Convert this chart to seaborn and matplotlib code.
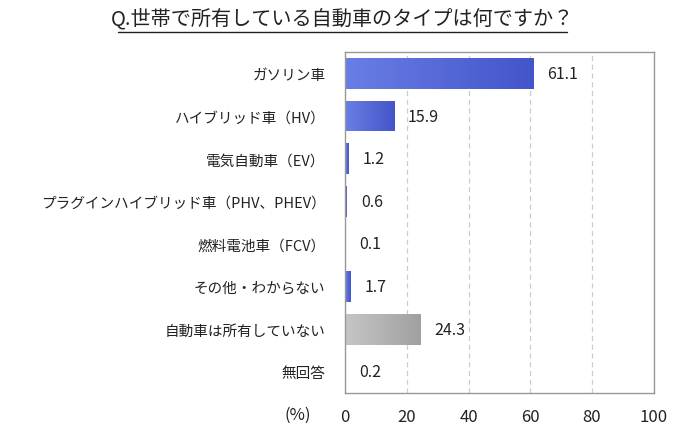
import matplotlib
matplotlib.use("Agg")
import matplotlib.pyplot as plt
import seaborn as sns
import numpy as np
import pandas as pd
from matplotlib.lines import Line2D
from matplotlib.colors import LinearSegmentedColormap

categories = ["ガソリン車", "ハイブリッド車（HV）", "電気自動車（EV）",
              "プラグインハイブリッド車（PHV、PHEV）", "燃料電池車（FCV）",
              "その他・わからない", "自動車は所有していない", "無回答"]
values = [61.1, 15.9, 1.2, 0.6, 0.1, 1.7, 24.3, 0.2]
value_labels = ["61.1", "15.9", "1.2", "0.6", "0.1", "1.7", "24.3", "0.2"]
xticks = [0, 20, 40, 60, 80, 100]
title = "Q.世帯で所有している自動車のタイプは何ですか？"

sns.set_theme(style="white")
plt.rcParams['font.family'] = ['Noto Sans CJK JP', 'DejaVu Sans']

blue = "#4f63d6"
gray = "#a9a9a9"
colors = [blue] * 6 + [gray, blue]

df = pd.DataFrame({"cat": categories, "val": values})

fig = plt.figure(figsize=(7, 4.35), dpi=100)
ax = fig.add_axes([0.493, 0.094, 0.441, 0.784])

sns.barplot(data=df, x="val", y="cat", hue="cat", palette=colors, legend=False,
            orient="h", width=0.72, ax=ax, saturation=1, edgecolor="none")

# gradient fill clipped to bars
grad = np.linspace(0, 1, 256).reshape(1, -1)
cm_blue = LinearSegmentedColormap.from_list("b", ["#6a7ee6", "#4355c9"])
cm_gray = LinearSegmentedColormap.from_list("g", ["#c6c6c6", "#a0a0a0"])
for i, p in enumerate(ax.patches):
    x0, y0 = p.get_x(), p.get_y()
    w, h = p.get_width(), p.get_height()
    if w <= 0:
        continue
    cm = cm_gray if colors[i] == gray else cm_blue
    im = ax.imshow(grad, extent=[x0, x0 + w, y0 + h, y0], aspect="auto",
                   cmap=cm, zorder=p.get_zorder() + 0.1)
    im.set_clip_path(p)

ax.set_xlim(0, 100)
ax.set_ylim(len(categories) - 0.5, -0.5)
ax.set_xticks(xticks)
ax.set_xticklabels([str(t) for t in xticks], fontsize=12, color="#222222")
ax.tick_params(axis="x", length=0, pad=11)
ax.tick_params(axis="y", length=0, pad=14, labelsize=10.5, labelcolor="#222222")
ax.set_yticks(np.arange(len(categories) + 1) - 0.5, minor=True)
ax.tick_params(axis="y", which="minor", length=4, color="#999999", width=0.8, direction="out")
ax.set_xlabel("")
ax.set_ylabel("")

ax.grid(axis="x", linestyle=(0, (4, 3)), color="#cccccc", linewidth=0.9)
ax.set_axisbelow(True)
for s in ax.spines.values():
    s.set_visible(True)
    s.set_color("#999999")
    s.set_linewidth(1.0)

for i, (v, lab) in enumerate(zip(values, value_labels)):
    ax.annotate(lab, xy=(v, i), xytext=(10, 0), textcoords="offset points",
                va="center", ha="left", fontsize=11.5, color="#222222")

fig.text(284 / 700, 1 - 415 / 435, "(%)", fontsize=12, ha="left", va="center", color="#222222")

fig.text(342 / 700, 1 - 19 / 435, title, fontsize=14.5, ha="center", va="center", color="#222222")
fig.add_artist(Line2D([118 / 700, 567 / 700], [1 - 33 / 435, 1 - 33 / 435],
                      color="#222222", linewidth=1.0, transform=fig.transFigure))

fig.savefig("out.png", dpi=100)
